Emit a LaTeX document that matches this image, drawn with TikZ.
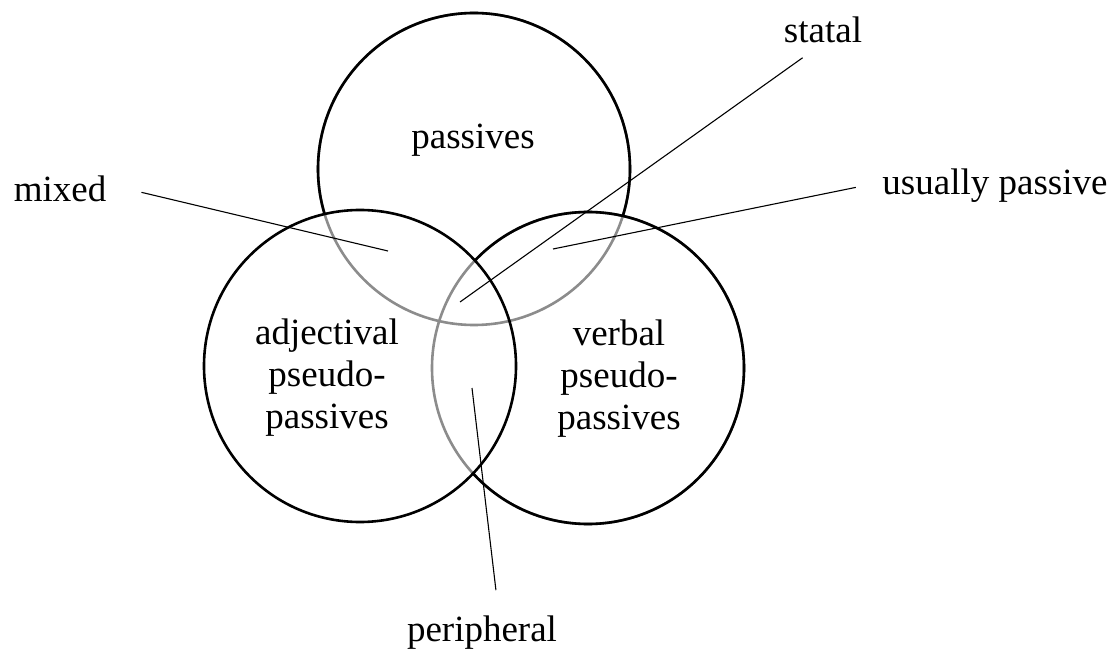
\documentclass[tikz,border=0pt]{standalone}
\usepackage{fontspec}
\setmainfont{Liberation Serif}
\usepackage{tikz}
\usetikzlibrary{positioning}

\definecolor{arcgray}{gray}{0.55}

\begin{document}
\begin{tikzpicture}[
    x=1pt, y=1pt,
    every node/.style={font=\fontsize{37}{42}\selectfont, inner sep=0pt},
    ring/.style={line width=2.6pt, draw=black},
    faded/.style={line width=2.6pt, draw=arcgray},
    pointer/.style={line width=1.1pt, draw=black}
]
\useasboundingbox (0,0) rectangle (1114,-652);
\def\vennr{156}

% circle centres
\coordinate (ctop)   at (474,-169);
\coordinate (cleft)  at (360,-366);
\coordinate (cright) at (588,-368);

% grey parts (where a circle runs inside another one)
\draw[faded] (ctop) circle[radius=\vennr];
\draw[faded] (cright) circle[radius=\vennr];

% black parts of the top circle
\begin{scope}[even odd rule]
  \clip (0,0) rectangle (1114,-652) (cleft) circle[radius=\vennr];
  \clip (0,0) rectangle (1114,-652) (cright) circle[radius=\vennr];
  \draw[ring] (ctop) circle[radius=\vennr];
\end{scope}

% black parts of the right circle
\begin{scope}[even odd rule]
  \clip (0,0) rectangle (1114,-652) (cleft) circle[radius=\vennr];
  \draw[ring] (cright) circle[radius=\vennr];
\end{scope}

% left circle
\draw[ring] (cleft) circle[radius=\vennr];

% circle labels
\node (passives) at (473,-140) {passives};
\node[align=center] (adjpp)  at (327,-378) {adjectival\\pseudo-\\passives};
\node[align=center] (verbpp) at (619,-379) {verbal\\pseudo-\\passives};

% outside labels
\node (mixed)  at (60,-189)  {mixed};
\node (statal) at (823,-30)  {statal};
\node (usual)  at (995,-186) {usually passive};
\node (periph) at (482,-633) {peripheral};

% pointer ends
\coordinate (mixedpt)  at (388,-251);
\coordinate (statalpt) at (460,-302);
\coordinate (usualpt)  at (553,-249);
\coordinate (periphpt) at (472,-388);

% pointers
\draw[pointer, shorten <=36pt] ([yshift=5pt]mixed.east) -- (mixedpt);
\draw[pointer, shorten <=25pt] (statal.south) -- (statalpt);
\draw[pointer, shorten <=27pt] ([yshift=4pt]usual.west) -- (usualpt);
\draw[pointer, shorten <=26pt] ([xshift=17pt]periph.north) -- (periphpt);

\end{tikzpicture}
\end{document}
